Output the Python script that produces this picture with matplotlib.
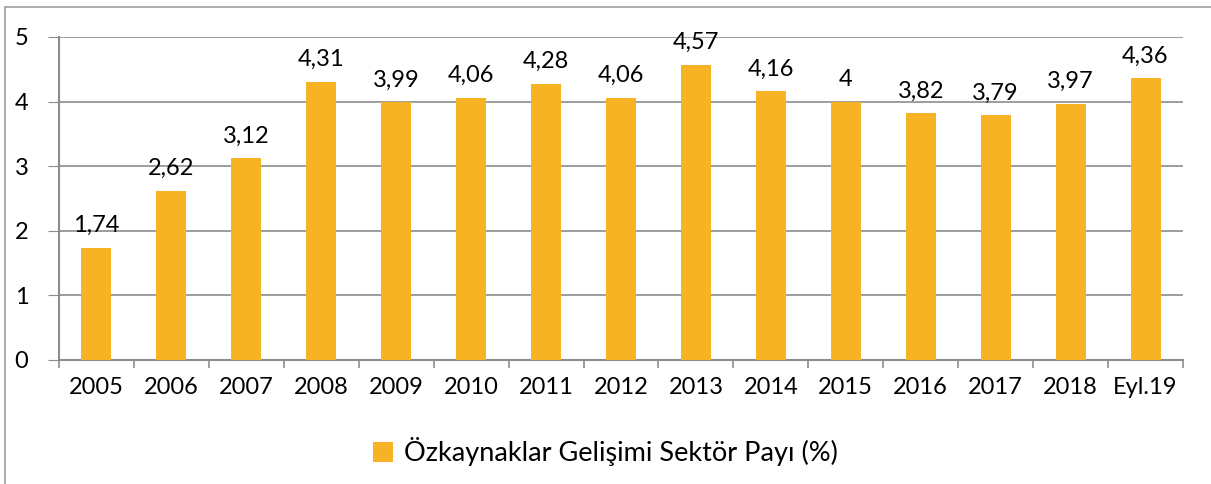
import matplotlib.pyplot as plt
from matplotlib.patches import Rectangle

plt.rcParams['font.family'] = ['Lato', 'DejaVu Sans']

years = ["2005", "2006", "2007", "2008", "2009", "2010", "2011", "2012",
         "2013", "2014", "2015", "2016", "2017", "2018", "Eyl.19"]
share = [1.74, 2.62, 3.12, 4.31, 3.99, 4.06, 4.28, 4.06,
         4.57, 4.16, 4.00, 3.82, 3.79, 3.97, 4.36]
share_labels = ["1,74", "2,62", "3,12", "4,31", "3,99", "4,06", "4,28", "4,06",
                "4,57", "4,16", "4", "3,82", "3,79", "3,97", "4,36"]

bar_color = "#F6B425"
axis_gray = "#8C8C8C"

fig = plt.figure(figsize=(12.11, 4.84), dpi=100)
ax = fig.add_axes([59 / 1211, 1 - 360 / 484, (1183 - 59) / 1211, (360 - 37) / 484])

x = range(len(years))
bars = ax.bar(x, share, width=0.4, color=bar_color, zorder=3,
              label="Özkaynaklar Gelişimi Sektör Payı (%)")

for b, txt in zip(bars, share_labels):
    ax.text(b.get_x() + b.get_width() / 2, b.get_height() + 0.18, txt,
            ha="center", va="bottom", fontsize=17, clip_on=False)

ax.set_xlim(-0.5, len(years) - 0.5)
ax.set_ylim(0, 5)
ax.set_yticks([0, 1, 2, 3, 4, 5])
ax.set_yticklabels(["0", "1", "2", "3", "4", "5"], fontsize=17)
ax.set_xticks(list(x))
ax.set_xticklabels(years, fontsize=17)
ax.tick_params(axis="x", length=0, pad=12)
ax.tick_params(axis="y", length=8, color=axis_gray, pad=14)

# category boundary ticks below x axis
ax.set_xticks([i - 0.5 for i in range(len(years) + 1)], minor=True)
ax.tick_params(axis="x", which="minor", length=6, color=axis_gray, width=1.2)

ax.grid(axis="y", color=axis_gray, linewidth=1.2, zorder=0)
for side in ["top", "right"]:
    ax.spines[side].set_visible(False)
for side in ["left", "bottom"]:
    ax.spines[side].set_color(axis_gray)
    ax.spines[side].set_linewidth(1.5)

leg = fig.legend(loc="center", bbox_to_anchor=(0.5, 1 - 452 / 484), frameon=False,
                 fontsize=19.5, handlelength=0.75, handleheight=0.75, handletextpad=0.4)

# outer chart frame
fig.patches.append(Rectangle((5 / 1211, -0.01), 1.02, 1 - 7 / 484 + 0.01,
                             transform=fig.transFigure, fill=False,
                             edgecolor="#A0A0A0", linewidth=1.2))

fig.savefig("out.png", dpi=100)
